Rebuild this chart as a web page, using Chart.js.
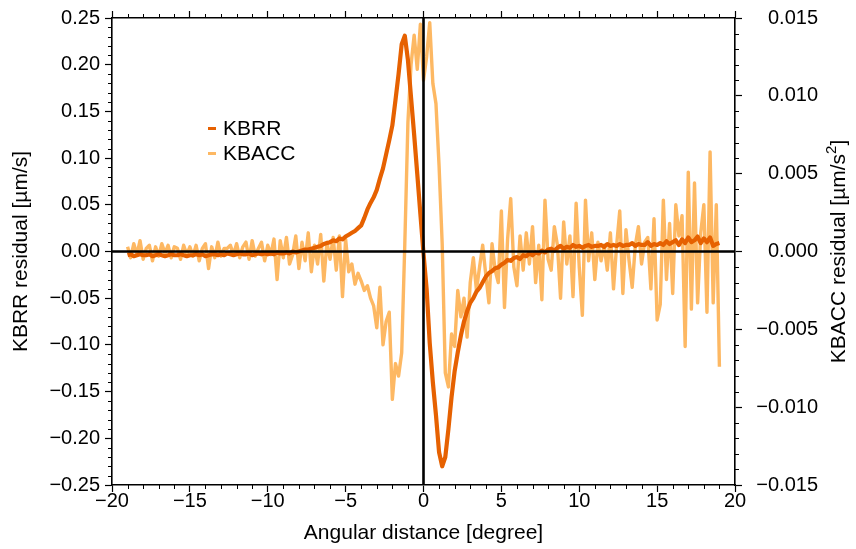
<!DOCTYPE html>
<html>
<head>
<meta charset="utf-8">
<script src="https://cdn.jsdelivr.net/npm/chart.js@4/dist/chart.umd.min.js"></script>
<style>
  html, body { margin: 0; padding: 0; background: #fff; }
  #wrap { width: 856px; height: 549px; }
</style>
</head>
<body>
<div id="wrap"><canvas id="chart" width="856" height="549"></canvas></div>
<script>
// angular distance [degree]
const angles = [
  -19, -18.8, -18.6, -18.4, -18.2, -18, -17.8, -17.6, -17.4, -17.2,
  -17, -16.8, -16.6, -16.4, -16.2, -16, -15.8, -15.6, -15.4, -15.2,
  -15, -14.8, -14.6, -14.4, -14.2, -14, -13.8, -13.6, -13.4, -13.2,
  -13, -12.8, -12.6, -12.4, -12.2, -12, -11.8, -11.6, -11.4, -11.2,
  -11, -10.8, -10.6, -10.4, -10.2, -10, -9.8, -9.6, -9.4, -9.2,
  -9, -8.8, -8.6, -8.4, -8.2, -8, -7.8, -7.6, -7.4, -7.2,
  -7, -6.8, -6.6, -6.4, -6.2, -6, -5.8, -5.6, -5.4, -5.2,
  -5, -4.8, -4.6, -4.4, -4.2, -4, -3.8, -3.6, -3.4, -3.2,
  -3, -2.8, -2.6, -2.4, -2.2, -2, -1.8, -1.6, -1.4, -1.2,
  -1, -0.8, -0.6, -0.4, -0.2, 0, 0.2, 0.4, 0.6, 0.8,
  1, 1.2, 1.4, 1.6, 1.8, 2, 2.2, 2.4, 2.6, 2.8,
  3, 3.2, 3.4, 3.6, 3.8, 4, 4.2, 4.4, 4.6, 4.8,
  5, 5.2, 5.4, 5.6, 5.8, 6, 6.2, 6.4, 6.6, 6.8,
  7, 7.2, 7.4, 7.6, 7.8, 8, 8.2, 8.4, 8.6, 8.8,
  9, 9.2, 9.4, 9.6, 9.8, 10, 10.2, 10.4, 10.6, 10.8,
  11, 11.2, 11.4, 11.6, 11.8, 12, 12.2, 12.4, 12.6, 12.8,
  13, 13.2, 13.4, 13.6, 13.8, 14, 14.2, 14.4, 14.6, 14.8,
  15, 15.2, 15.4, 15.6, 15.8, 16, 16.2, 16.4, 16.6, 16.8,
  17, 17.2, 17.4, 17.6, 17.8, 18, 18.2, 18.4, 18.6, 18.8,
  19
];

// KBRR residual [um/s], left axis
const kbrr = [
  -0.004, -0.003, -0.005, -0.004, -0.003, -0.004, -0.004, -0.003, -0.005, -0.004,
  -0.003, -0.004, -0.005, -0.004, -0.003, -0.004, -0.004, -0.003, -0.004, -0.005,
  -0.004, -0.004, -0.003, -0.004, -0.003, -0.005, -0.004, -0.003, -0.003, -0.004,
  -0.003, -0.004, -0.002, -0.003, -0.004, -0.003, -0.002, -0.003, -0.003, -0.002,
  -0.004, -0.003, -0.002, -0.003, -0.002, -0.003, -0.002, -0.003, -0.001, -0.002,
  -0.002, -0.001, -0.002, 0.000, -0.001, 0.000, 0.001, 0.002, 0.002, 0.003,
  0.004, 0.005, 0.006, 0.008, 0.009, 0.010, 0.012, 0.011, 0.014, 0.013,
  0.016, 0.018, 0.020, 0.022, 0.025, 0.028, 0.036, 0.045, 0.052, 0.058,
  0.066, 0.078, 0.089, 0.104, 0.119, 0.135, 0.162, 0.190, 0.222, 0.231,
  0.205, 0.165, 0.125, 0.083, 0.040, -0.002, -0.040, -0.098, -0.140, -0.175,
  -0.215, -0.230, -0.220, -0.190, -0.156, -0.128, -0.108, -0.090, -0.075, -0.064,
  -0.055, -0.050, -0.043, -0.039, -0.033, -0.027, -0.023, -0.021, -0.018, -0.017,
  -0.014, -0.012, -0.009, -0.010, -0.007, -0.006, -0.008, -0.004, -0.005, -0.002,
  -0.004, -0.001, -0.002, 0.001, -0.001, 0.002, 0.003, 0.001, 0.004, 0.006,
  0.003, 0.005, 0.004, 0.007, 0.005, 0.006, 0.004, 0.006, 0.007, 0.005,
  0.006, 0.006, 0.007, 0.005, 0.008, 0.006, 0.007, 0.006, 0.008, 0.006,
  0.007, 0.007, 0.009, 0.006, 0.008, 0.007, 0.007, 0.010, 0.006, 0.008,
  0.007, 0.009, 0.007, 0.011, 0.008, 0.010, 0.012, 0.007, 0.013, 0.009,
  0.015, 0.010, 0.012, 0.016, 0.009, 0.014, 0.010, 0.015, 0.006, 0.008,
  0.009
];

// KBACC residual [um/s^2], right axis
const kbacc = [
  0.0003, -0.0004, 0.0005, -0.0002, 0.0007, -0.0005, 0.0002, 0.0004, -0.0006, 0.0003,
  -0.0003, 0.0005, -0.0001, 0.0004, -0.0004, 0.0003, 0.0002, -0.0005, 0.0004, -0.0002,
  0.0003, -0.0003, 0.0004, -0.0006, 0.0002, 0.0005, -0.0011, 0.0003, -0.0004, 0.0006,
  -0.0003, 0.0002, 0.0002, 0.0004, -0.0002, 0.0005, -0.0004, 0.0003, 0.0006, -0.0005,
  0.0007, -0.0003, 0.0002, 0.0006, -0.0006, 0.0004, -0.0002, 0.0008, -0.0018, 0.0007,
  -0.0004, 0.0009, -0.0008, -0.0002, 0.0010, -0.0011, 0.0006, -0.0006, 0.0012, -0.0013,
  0.0004, -0.0008, 0.0011, -0.0019, 0.0006, -0.0005, 0.0009, -0.0012, 0.0010, -0.0029,
  0.0008, -0.0013, -0.0008, -0.0021, -0.0014, -0.0019, -0.0025, -0.0022, -0.0030, -0.0035,
  -0.0049, -0.0023, -0.0060, -0.0045, -0.0039, -0.0095, -0.0072, -0.0080, -0.0065, 0.0005,
  0.0083, 0.0120, 0.0139, 0.0117, 0.0146, 0.0110, 0.0125, 0.0147, 0.0108, 0.0095,
  0.0055, 0.0005, -0.0078, -0.0087, -0.0053, -0.0061, -0.0025, -0.0042, -0.0030, -0.0055,
  -0.0020, -0.0004, -0.0025, -0.0010, 0.0004, -0.0015, -0.0033, 0.0005, -0.0012, -0.0020,
  0.0026, -0.0036, 0.0008, 0.0034, -0.0010, -0.0022, 0.0010, -0.0012, 0.0012, -0.0008,
  0.0016, -0.0020, 0.0004, -0.0031, 0.0033, -0.0005, -0.0012, 0.0016, 0.0004, -0.0030,
  0.0019, -0.0008, 0.0010, -0.0029, 0.0031, -0.0010, -0.0041, 0.0033, -0.0006, 0.0012,
  -0.0018, 0.0006, -0.0006, 0.0004, -0.0012, 0.0012, -0.0024, 0.0004, 0.0026, -0.0027,
  0.0014, -0.0006, -0.0023, 0.0004, 0.0016, -0.0008, 0.0006, 0.0009, -0.0024, 0.0021,
  -0.0044, -0.0034, 0.0033, -0.0018, 0.0018, -0.0027, 0.0030, 0.0010, 0.0023, -0.0061,
  0.0051, -0.0037, 0.0044, -0.0033, 0.0012, 0.0030, -0.0039, 0.0064, -0.0033, 0.0030,
  -0.0074
];

const seriesNames = ['KBRR', 'KBACC'];
const seriesColors = ['#e66101', '#fdb863'];

const FONT = '"Liberation Sans", Arial, Helvetica, sans-serif';
const TICK_SIZE = 20;
const LABEL_SIZE = 21;

Chart.defaults.font.family = FONT;
Chart.defaults.font.size = TICK_SIZE;
Chart.defaults.color = '#000';

const minus = (s) => s.replace('-', '\u2212');
const fmt = (digits) => (v) => {
  const s = Number(v).toFixed(digits);
  return Math.abs(v) < 1e-9 ? (0).toFixed(digits) : minus(s);
};

// frame-ish axis settings shared by all four sides
function axisGrid() {
  return {
    display: true,
    drawOnChartArea: false,
    drawTicks: true,
    tickLength: 7,
    tickWidth: 1.2,
    tickColor: '#000',
  };
}
const border = { display: true, color: '#000', width: 1.6 };

// thick black lines through zero
const zeroLines = {
  id: 'zeroLines',
  afterDatasetsDraw(chart) {
    const { ctx, chartArea: a, scales } = chart;
    const y0 = scales.y.getPixelForValue(0);
    const x0 = scales.x.getPixelForValue(0);
    ctx.save();
    ctx.strokeStyle = '#000';
    ctx.lineWidth = 2.6;
    ctx.beginPath();
    ctx.moveTo(a.left, y0);
    ctx.lineTo(a.right, y0);
    ctx.moveTo(x0, a.top);
    ctx.lineTo(x0, a.bottom);
    ctx.stroke();
    ctx.restore();
  }
};

// short minor ticks on every side
const minorTicks = {
  id: 'minorTicks',
  afterDraw(chart) {
    const { ctx, chartArea: a, scales } = chart;
    const len = 4;
    ctx.save();
    ctx.strokeStyle = '#000';
    ctx.lineWidth = 1;
    ctx.beginPath();
    for (let k = -20; k <= 20; k++) {
      if (k % 5 === 0) continue;
      const px = Math.round(scales.x.getPixelForValue(k)) + 0.5;
      ctx.moveTo(px, a.bottom); ctx.lineTo(px, a.bottom + len);
      ctx.moveTo(px, a.top); ctx.lineTo(px, a.top - len);
    }
    for (let k = -25; k <= 25; k++) {
      if (k % 5 === 0) continue;
      const py = Math.round(scales.y.getPixelForValue(k / 100)) + 0.5;
      ctx.moveTo(a.left, py); ctx.lineTo(a.left - len, py);
    }
    for (let k = -15; k <= 15; k++) {
      if (k % 5 === 0) continue;
      const py = Math.round(scales.y2.getPixelForValue(k / 1000)) + 0.5;
      ctx.moveTo(a.right, py); ctx.lineTo(a.right + len, py);
    }
    ctx.stroke();
    ctx.restore();
  }
};

// legend placed inside the plot, and right axis title with a superscript
const annotations = {
  id: 'annotations',
  afterDraw(chart) {
    const { ctx, chartArea: a } = chart;
    const big = LABEL_SIZE + 'px ' + FONT;
    const small = Math.round(LABEL_SIZE * 0.7) + 'px ' + FONT;
    ctx.save();
    ctx.font = big;
    ctx.textBaseline = 'middle';
    const rows = [129, 154];
    chart.data.datasets.forEach((ds, i) => {
      ctx.strokeStyle = ds.borderColor;
      ctx.lineWidth = 3;
      ctx.beginPath();
      ctx.moveTo(208, rows[i] - 0.5);
      ctx.lineTo(216, rows[i] - 0.5);
      ctx.stroke();
      ctx.fillStyle = '#000';
      ctx.textAlign = 'left';
      ctx.fillText(ds.label, 223, rows[i]);
    });

    const main = 'KBACC residual [\u00b5m/s';
    const sup = '2';
    const end = ']';
    const w1 = ctx.measureText(main).width;
    const w3 = ctx.measureText(end).width;
    ctx.font = small;
    const w2 = ctx.measureText(sup).width;
    const total = w1 + w2 + w3;
    ctx.translate(839, (a.top + a.bottom) / 2);
    ctx.rotate(-Math.PI / 2);
    ctx.textAlign = 'left';
    ctx.fillStyle = '#000';
    let x = -total / 2;
    ctx.font = big;
    ctx.fillText(main, x, 0);
    x += w1;
    ctx.font = small;
    ctx.fillText(sup, x, -7);
    x += w2;
    ctx.font = big;
    ctx.fillText(end, x, 0);
    ctx.restore();
  }
};

const toPoints = (ys) => angles.map((a, i) => ({ x: a, y: ys[i] }));

new Chart(document.getElementById('chart'), {
  type: 'line',
  data: {
    datasets: [
      {
        label: seriesNames[0],
        data: toPoints(kbrr),
        borderColor: seriesColors[0],
        borderWidth: 4.2,
        pointRadius: 0,
        tension: 0,
        borderJoinStyle: 'round',
        xAxisID: 'x',
        yAxisID: 'y',
      },
      {
        label: seriesNames[1],
        data: toPoints(kbacc),
        borderColor: seriesColors[1],
        borderWidth: 3.4,
        pointRadius: 0,
        tension: 0,
        borderJoinStyle: 'round',
        xAxisID: 'x',
        yAxisID: 'y2',
      }
    ]
  },
  options: {
    responsive: false,
    animation: false,
    devicePixelRatio: 1,
    layout: { padding: { left: 0, right: 38, top: 0, bottom: 0 } },
    plugins: {
      legend: { display: false },
      tooltip: { enabled: false },
    },
    scales: {
      x: {
        type: 'linear',
        position: 'bottom',
        min: -20,
        max: 20,
        ticks: { stepSize: 5, padding: -3, callback: fmt(0), maxRotation: 0 },
        grid: axisGrid(),
        border: border,
        title: {
          display: true,
          text: 'Angular distance [degree]',
          font: { size: LABEL_SIZE },
          padding: { top: 0, bottom: 3 }
        },
        afterFit: (s) => { s.height = 64; },
      },
      xTop: {
        type: 'linear',
        axis: 'x',
        position: 'top',
        min: -20,
        max: 20,
        ticks: { stepSize: 5, display: false },
        grid: axisGrid(),
        border: border,
        afterFit: (s) => { s.height = 18; },
      },
      y: {
        type: 'linear',
        position: 'left',
        min: -0.25,
        max: 0.25,
        ticks: { stepSize: 0.05, padding: 5, callback: fmt(2) },
        grid: axisGrid(),
        border: border,
        title: {
          display: true,
          text: 'KBRR residual [\u00b5m/s]',
          font: { size: LABEL_SIZE },
          padding: { top: 9, bottom: 0 }
        },
        afterFit: (s) => { s.width = 112; },
      },
      y2: {
        type: 'linear',
        position: 'right',
        min: -0.015,
        max: 0.015,
        ticks: { stepSize: 0.005, padding: 5, crossAlign: 'far', callback: fmt(3) },
        grid: axisGrid(),
        border: border,
        afterFit: (s) => { s.width = 83; },
      },
    }
  },
  plugins: [zeroLines, minorTicks, annotations]
});
</script>
</body>
</html>
